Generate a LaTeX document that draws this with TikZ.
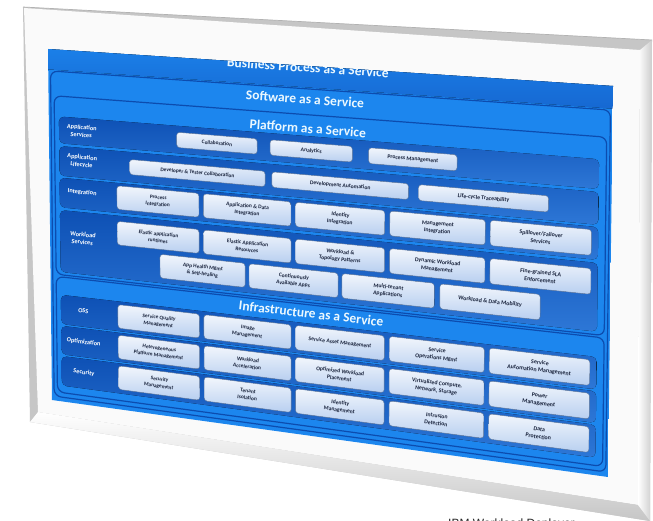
\documentclass[tikz,border=0pt]{standalone}
\usepackage{fontspec}
\setmainfont{Carlito}
\newfontfamily\captionfont{Liberation Sans}
\usetikzlibrary{positioning}

\definecolor{panelblue}{RGB}{28,134,238}
\definecolor{rowblue}{RGB}{22,104,210}
\definecolor{stripeblue}{RGB}{12,76,175}
\definecolor{boxtop}{RGB}{242,246,252}
\definecolor{boxbot}{RGB}{184,207,240}
\definecolor{boxline}{RGB}{105,135,180}
\definecolor{boxink}{RGB}{25,35,60}

% bilinear map of the flat slide (u,v in [0,1]) onto the tilted screen
\makeatletter
\def\pnl@split#1,#2\pnl@stop{\pgfmathsetmacro\pnl@u{#1}\pgfmathsetmacro\pnl@v{#2}}
\tikzdeclarecoordinatesystem{panel}{%
  \pnl@split#1\pnl@stop
  \pgfmathsetmacro\pnl@x{(1-\pnl@u)*(1-\pnl@v)*48+\pnl@u*(1-\pnl@v)*613+\pnl@u*\pnl@v*608+(1-\pnl@u)*\pnl@v*52}%
  \pgfmathsetmacro\pnl@y{(1-\pnl@u)*(1-\pnl@v)*49+\pnl@u*(1-\pnl@v)*86+\pnl@u*\pnl@v*477+(1-\pnl@u)*\pnl@v*400}%
  \pgfpoint{\pnl@x pt}{-\pnl@y pt}%
}
\makeatother
\newcommand{\quadpath}[4]{(panel cs:#1,#2) -- (panel cs:#3,#2) -- (panel cs:#3,#4) -- (panel cs:#1,#4) -- cycle}
\newcommand{\svcbox}[6]{%
  \filldraw[svc] \quadpath{#2}{#3}{#4}{#5};
  \pgfmathsetmacro\boxu{(#2+#4)/2}%
  \pgfmathsetmacro\boxv{(#3+#5)/2}%
  \pgfmathsetmacro\boxtilt{-(3.75+4.3*\boxv)}%
  \pgfmathsetmacro\boxscale{0.92+0.16*\boxu}%
  \node[svctext, rotate=\boxtilt, scale=\boxscale] (#1) at (panel cs:\boxu,\boxv) {#6};
}
\newcommand{\rowlabel}[3]{%
  \pgfmathsetmacro\boxtilt{-(3.75+4.3*#2)}%
  \node[rowtext, rotate=\boxtilt] (#1) at (panel cs:0.058,#2) {#3};
}
\newcommand{\layertitle}[4]{%
  \pgfmathsetmacro\boxtilt{-(3.75+4.3*#3)}%
  \node[titletext, rotate=\boxtilt] (#1) at (panel cs:#2,#3) {#4};
}

\tikzset{
  svc/.style={draw=boxline, line width=0.4pt, top color=boxtop, bottom color=boxbot, rounded corners=3pt},
  svctext/.style={font=\fontsize{5.6}{7.2}\selectfont\bfseries, text=boxink, align=center, inner sep=0pt},
  rowtext/.style={font=\fontsize{6.3}{7.6}\selectfont\bfseries, text=white, align=center, inner sep=0pt},
  titletext/.style={font=\fontsize{13.5}{15}\selectfont\bfseries, text=white!92!cyan, inner sep=0pt},
  rowband/.style={top color=stripeblue!85!rowblue, bottom color=rowblue!90!white, rounded corners=5pt},
  layer/.style={fill=panelblue, draw=stripeblue, line width=1.2pt, rounded corners=7pt},
}

\begin{document}
\begin{tikzpicture}[x=1pt, y=1pt]
\useasboundingbox (0,0) rectangle (653,-521);
\clip (0,0) rectangle (653,-521);
\fill[white] (0,0) rectangle (653,-521);

% white monitor frame
\fill[gray!45] (23,-7) -- (652,-40) -- (650,-521) -- (30,-422) -- cycle;
\fill[white!96!gray] (24,-8) -- (640,-50) -- (638,-505) -- (38,-412) -- cycle;
\shade[top color=white, bottom color=gray!45] (30,-422) -- (650,-521) -- (638,-505) -- (38,-412) -- cycle;
\shade[left color=white, right color=gray!40] (640,-50) -- (652,-40) -- (650,-521) -- (638,-505) -- cycle;
\draw[gray!60, line width=0.7pt] (23,-7) -- (652,-40);

\begin{scope}
\clip \quadpath{0}{0}{1}{1};
\fill[panelblue] \quadpath{0}{0}{1}{1};
% Business Process band
\fill[top color=panelblue, bottom color=rowblue] \quadpath{0}{-0.05}{1}{0.058};
\layertitle{bpaas}{0.46}{0.004}{Business Process as a Service}

% service layers
\filldraw[layer] \quadpath{0.004}{0.062}{0.996}{0.988};
\layertitle{saas}{0.455}{0.090}{Software as a Service}
\filldraw[layer] \quadpath{0.010}{0.132}{0.990}{0.640};
\filldraw[layer] \quadpath{0.010}{0.646}{0.990}{0.975};

% row bands
\fill[rowband] \quadpath{0.018}{0.190}{0.977}{0.266};
\fill[rowband] \quadpath{0.018}{0.274}{0.977}{0.358};
\fill[rowband] \quadpath{0.018}{0.364}{0.977}{0.448};
\fill[rowband] \quadpath{0.018}{0.456}{0.977}{0.632};
\fill[rowband] \quadpath{0.018}{0.697}{0.977}{0.780};
\fill[rowband] \quadpath{0.018}{0.785}{0.977}{0.866};
\fill[rowband] \quadpath{0.018}{0.871}{0.977}{0.955};

\layertitle{paas}{0.46}{0.169}{Platform as a Service}
\layertitle{iaas}{0.466}{0.669}{Infrastructure as a Service}

\rowlabel{lappsvc}{0.226}{Application\\Services}
\rowlabel{lapplife}{0.312}{Application\\Lifecycle}
\rowlabel{lint}{0.400}{Integration}
\rowlabel{lwork}{0.530}{Workload\\Services}
\rowlabel{loss}{0.735}{OSS}
\rowlabel{lopt}{0.824}{Optimization}
\rowlabel{lsec}{0.910}{Security}

% Platform as a Service
\svcbox{collab}{0.227}{0.208}{0.370}{0.250}{Collaboration}
\svcbox{analytics}{0.393}{0.208}{0.539}{0.250}{Analytics}
\svcbox{procmgmt}{0.568}{0.208}{0.725}{0.250}{Process Management}

\svcbox{devtest}{0.143}{0.295}{0.384}{0.337}{Developer \& Tester Collaboration}
\svcbox{devauto}{0.396}{0.295}{0.639}{0.337}{Development Automation}
\svcbox{lifecycle}{0.657}{0.295}{0.888}{0.337}{Life-cycle Traceability}

\svcbox{procint}{0.120}{0.372}{0.266}{0.438}{Process\\Integration}
\svcbox{appdata}{0.274}{0.372}{0.430}{0.438}{Application \& Data\\Integration}
\svcbox{identint}{0.438}{0.372}{0.597}{0.438}{Identity\\Integration}
\svcbox{mgmtint}{0.606}{0.372}{0.776}{0.438}{Management\\Integration}
\svcbox{spill}{0.785}{0.372}{0.965}{0.438}{Spillover/Failover\\Services}

\svcbox{elasticrt}{0.120}{0.472}{0.266}{0.538}{Elastic application\\runtimes}
\svcbox{elasticres}{0.274}{0.472}{0.430}{0.538}{Elastic Application\\Resources}
\svcbox{topo}{0.438}{0.472}{0.597}{0.538}{Workload \&\\Topology Patterns}
\svcbox{dynwl}{0.606}{0.472}{0.776}{0.538}{Dynamic Workload\\Management}
\svcbox{sla}{0.785}{0.472}{0.965}{0.538}{Fine-grained SLA\\Enforcement}

\svcbox{health}{0.196}{0.552}{0.348}{0.618}{App Health Mgmt\\\& Self-healing}
\svcbox{contapps}{0.355}{0.552}{0.514}{0.618}{Continuously\\Available Apps}
\svcbox{multi}{0.521}{0.552}{0.686}{0.618}{Multi-tenant\\Applications}
\svcbox{mobility}{0.696}{0.552}{0.875}{0.618}{Workload \& Data Mobility}

% Infrastructure as a Service
\svcbox{sqm}{0.120}{0.706}{0.266}{0.772}{Service Quality\\Management}
\svcbox{imgm}{0.274}{0.706}{0.430}{0.772}{Image\\Management}
\svcbox{sam}{0.438}{0.706}{0.597}{0.772}{Service Asset Management}
\svcbox{sops}{0.606}{0.706}{0.776}{0.772}{Service\\Operations Mgmt}
\svcbox{sauto}{0.785}{0.706}{0.965}{0.772}{Service\\Automation Management}

\svcbox{hetero}{0.120}{0.792}{0.266}{0.858}{Heterogeneous\\Platform Management}
\svcbox{wlaccel}{0.274}{0.792}{0.430}{0.858}{Workload\\Acceleration}
\svcbox{optplace}{0.438}{0.792}{0.597}{0.858}{Optimized Workload\\Placement}
\svcbox{virt}{0.606}{0.792}{0.776}{0.858}{Virtualized Compute,\\Network, Storage}
\svcbox{power}{0.785}{0.792}{0.965}{0.858}{Power\\Management}

\svcbox{secm}{0.120}{0.878}{0.266}{0.944}{Security\\Management}
\svcbox{tenant}{0.274}{0.878}{0.430}{0.944}{Tenant\\Isolation}
\svcbox{idm}{0.438}{0.878}{0.597}{0.944}{Identity\\Management}
\svcbox{intrusion}{0.606}{0.878}{0.776}{0.944}{Intrusion\\Detection}
\svcbox{dataprot}{0.785}{0.878}{0.965}{0.944}{Data\\Protection}
\end{scope}

\node[anchor=base west, inner sep=0pt, font=\captionfont\fontsize{12}{12}\selectfont, text=black!85] (caption) at (448,-527) {IBM Workload Deployer};
\end{tikzpicture}
\end{document}
